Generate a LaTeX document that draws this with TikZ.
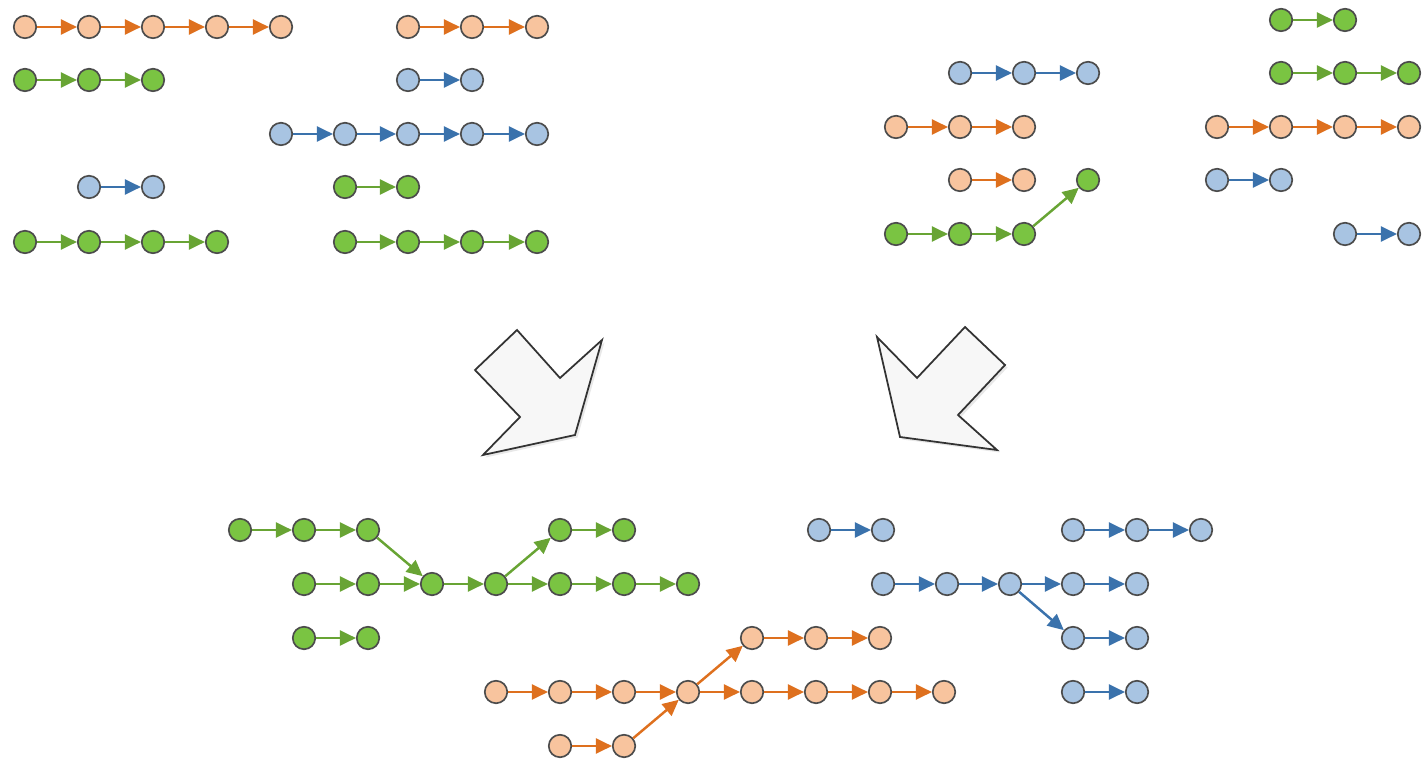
\documentclass[tikz,border=0pt]{standalone}
\usepackage{tikz}
\usetikzlibrary{arrows.meta,shadows}
\definecolor{oFill}{RGB}{248,196,158}
\definecolor{oLine}{RGB}{222,112,30}
\definecolor{gFill}{RGB}{122,196,66}
\definecolor{gLine}{RGB}{104,164,52}
\definecolor{bFill}{RGB}{168,196,226}
\definecolor{bLine}{RGB}{58,114,172}
\tikzset{
  dotnd/.style={circle, draw=black!70, line width=0.95pt, fill=#1, minimum size=0.45cm, inner sep=0pt},
  odot/.style={dotnd=oFill}, gdot/.style={dotnd=gFill}, bdot/.style={dotnd=bFill},
  linkln/.style={-{Triangle[length=3.2mm,width=3mm]}, line width=1.4pt, draw=#1},
  olink/.style={linkln=oLine}, glink/.style={linkln=gLine}, blink/.style={linkln=bLine},
  bigarr/.style={draw=black!80, line width=1pt, fill=gray!6, line join=miter,
    drop shadow={opacity=0.18, shadow xshift=0.05cm, shadow yshift=-0.05cm}},
}
% one row of dots: name, colour key (o/g/b), y, list of x
\newcommand{\chain}[4]{%
  \foreach \xx [count=\k, remember=\k as \pk (initially 0)] in {#4} {
    \node[#2dot] (#1\k) at (\xx,#3) {};
    \ifnum\k>1 \draw[#2link] (#1\pk) -- (#1\k); \fi
  }
}

\begin{document}
\begin{tikzpicture}[x=0.02cm, y=-0.02cm]
  \useasboundingbox (0,0) rectangle (1426,763);
  % top left
  \chain{tA}{o}{27}{25,89,153,217,281}
  \chain{tB}{o}{27}{408,472,537}
  \chain{tC}{g}{80}{25,89,153}
  \chain{tD}{b}{80}{408,472}
  \chain{tE}{b}{134}{281,345,408,472,537}
  \chain{tF}{b}{187}{89,153}
  \chain{tG}{g}{187}{345,408}
  \chain{tH}{g}{242}{25,89,153,217}
  \chain{tI}{g}{242}{345,408,472,537}
  % top right
  \chain{rA}{g}{20}{1281,1345}
  \chain{rB}{b}{73}{960,1024,1088}
  \chain{rC}{g}{73}{1281,1345,1409}
  \chain{rD}{o}{127}{896,960,1024}
  \chain{rE}{o}{127}{1217,1281,1345,1409}
  \chain{rF}{o}{180}{960,1024}
  \chain{rH}{b}{180}{1217,1281}
  \chain{rG}{g}{234}{896,960,1024}
  \chain{rI}{b}{234}{1345,1409}
  \node[gdot] (rX) at (1088,180) {};
  \draw[glink] (rG3) -- (rX);
  % merge arrows
  \draw[bigarr] (517,330) -- (560,378) -- (602,340) -- (575,435) -- (483,455) -- (520,417) -- (475,370) -- cycle;
  \draw[bigarr] (877,337) -- (917,378) -- (965,327) -- (1005,365) -- (958,415) -- (997,450) -- (900,437) -- cycle;
  % bottom
  \chain{bA}{g}{530}{240,304,368}
  \chain{bB}{g}{530}{560,624}
  \chain{bC}{b}{530}{819,883}
  \chain{bD}{b}{530}{1073,1137,1201}
  \chain{bE}{g}{584}{304,368,432,496,560,624,688}
  \chain{bF}{b}{584}{883,947,1010,1073,1137}
  \chain{bG}{g}{638}{304,368}
  \chain{bH}{o}{638}{752,816,880}
  \chain{bK}{b}{638}{1073,1137}
  \chain{bL}{o}{692}{496,560,624,688,752,816,880,944}
  \chain{bM}{b}{692}{1073,1137}
  \chain{bN}{o}{746}{560,624}
  \draw[glink] (bA3) -- (bE3);
  \draw[glink] (bE4) -- (bB1);
  \draw[blink] (bF3) -- (bK1);
  \draw[olink] (bL4) -- (bH1);
  \draw[olink] (bN2) -- (bL4);
\end{tikzpicture}
\end{document}
